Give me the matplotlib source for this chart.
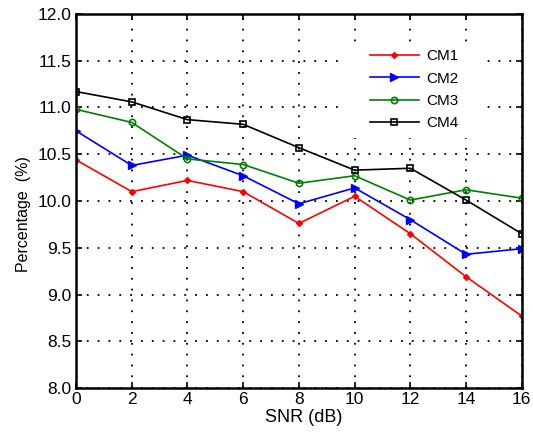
import numpy as np
import matplotlib
matplotlib.use("Agg")
import matplotlib.pyplot as plt
from matplotlib.patches import Rectangle

plt.rcParams["font.family"] = ["Liberation Sans", "DejaVu Sans"]

snr = [0, 2, 4, 6, 8, 10, 12, 14, 16]
cm1 = [10.44, 10.10, 10.22, 10.10, 9.76, 10.05, 9.65, 9.19, 8.77]
cm2 = [10.75, 10.38, 10.49, 10.27, 9.97, 10.14, 9.80, 9.43, 9.49]
cm3 = [10.98, 10.84, 10.45, 10.39, 10.19, 10.27, 10.01, 10.12, 10.03]
cm4 = [11.17, 11.06, 10.87, 10.82, 10.57, 10.33, 10.35, 10.01, 9.65]
yticks = np.arange(8, 12.01, 0.5)

fig = plt.figure(figsize=(5.33, 4.36), dpi=100)
ax = fig.add_axes([0.1426, 0.110, 0.8364, 0.858])

ax.plot(snr, cm1, color="red", marker="D", markersize=3, lw=1.2, label="CM1")
ax.plot(snr, cm2, color="blue", marker=">", markersize=6, lw=1.2, label="CM2")
ax.plot(snr, cm3, color="green", marker="o", markersize=4.5, mfc="none", mew=1.2, lw=1.2, label="CM3")
ax.plot(snr, cm4, color="black", marker="s", markersize=5, mfc="none", mew=1.2, lw=1.2, label="CM4")

ax.set_xlim(0, 16)
ax.set_ylim(8, 12)
ax.set_xticks(snr)
ax.set_yticks(yticks)
ax.set_yticklabels(["%.1f" % v for v in yticks])
ax.grid(True, color="black", linestyle=(0, (1, 5)), linewidth=1.3)
ax.tick_params(direction="in", top=True, right=True, labelsize=12.5, length=4, width=1.2, pad=3)
for s in ax.spines.values():
    s.set_linewidth(1.8)

ax.set_xlabel("SNR (dB)", fontsize=13)
ax.xaxis.set_label_coords(0.51, -0.055, transform=ax.transAxes)
ax.xaxis.label.set_va("top")
ax.set_ylabel("Percentage  (%)", fontsize=11.5)
ax.yaxis.set_label_coords(-0.100, 0.465, transform=ax.transAxes)

# white box behind the legend hides the grid there
ax.add_patch(Rectangle((0.603, 0.668), 0.303, 0.254, transform=ax.transAxes,
                       facecolor="white", edgecolor="none", zorder=1.8))

ax.legend(loc="upper left", bbox_to_anchor=(0.642, 0.926), frameon=False, fontsize=11,
          handlelength=3.2, labelspacing=0.55, borderpad=0, handletextpad=0.5)

fig.savefig("out.png", dpi=100)
